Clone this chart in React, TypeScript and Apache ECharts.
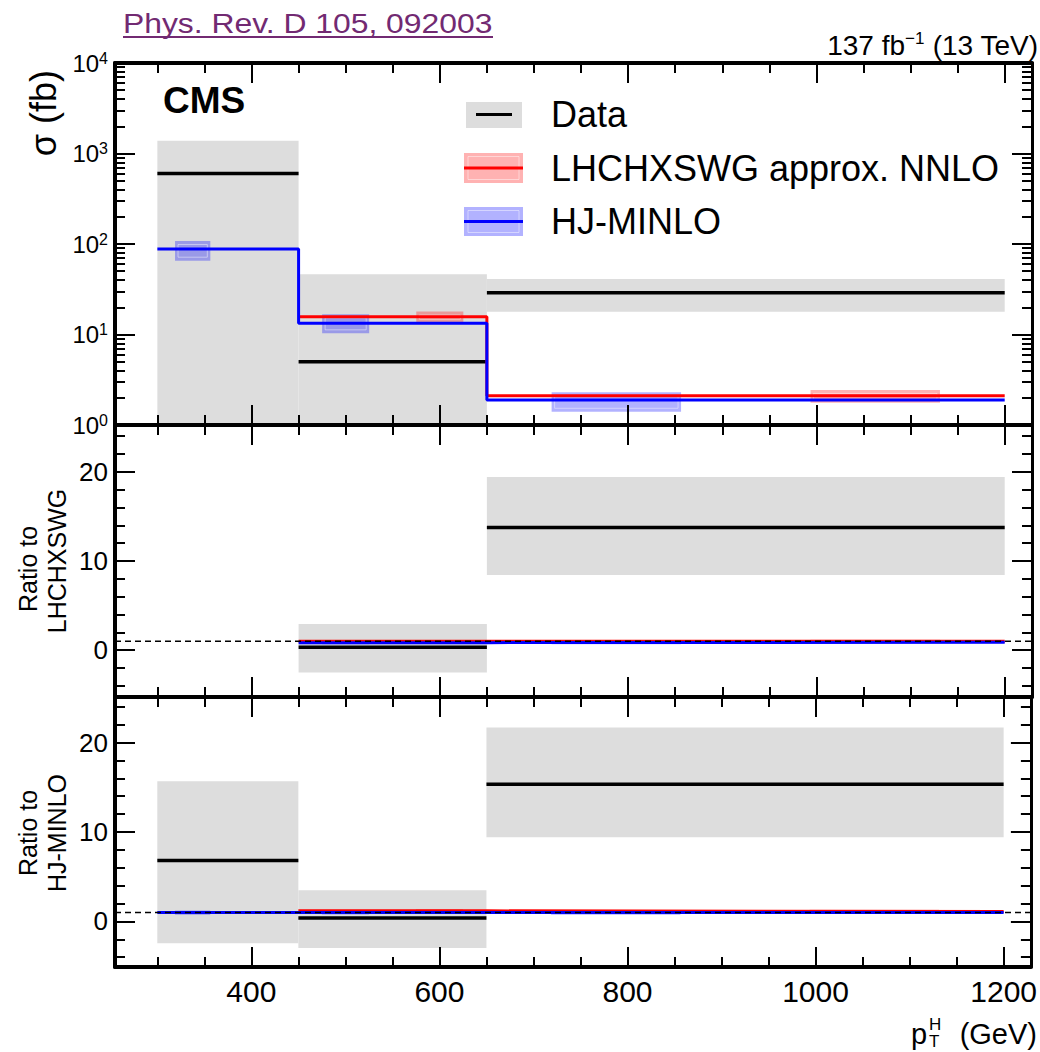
import React, { useEffect, useRef } from "react";
import * as echarts from "echarts";

// pT^H bin edges (GeV)
const BIN_EDGES = [300, 450, 650, 1200];

// Measured cross sections (fb) with the limits of the total uncertainty band
const DATA_XSEC = [600, 5, 29];
const DATA_HIGH = [1380, 46.3, 41];
const DATA_LOW = [-216, -39.5, 17.8];

// LHCHXSWG approx. NNLO prediction (none for the lowest bin)
const LHC_XSEC: (number | null)[] = [null, 15.7, 2.11];
const LHC_HIGH: (number | null)[] = [null, 17.9, 2.44];
const LHC_LOW: (number | null)[] = [null, 13.5, 1.76];

// HJ-MINLO prediction
const HJ_XSEC = [88, 13.3, 1.89];
const HJ_HIGH = [108, 16.7, 2.3];
const HJ_LOW = [65.4, 10.3, 1.4];

// Axis ranges and tick values
const X_RANGE = [255, 1229];
const X_MAJOR = [400, 600, 800, 1000, 1200];
const X_MINOR = [300, 350, 450, 500, 550, 650, 700, 750, 850, 900, 950, 1050, 1100, 1150];
const SIGMA_RANGE = [1, 10000];
const SIGMA_MAJOR = [1, 10, 100, 1000, 10000];
const SIGMA_MINOR = [
  2, 3, 4, 5, 6, 7, 8, 9, 20, 30, 40, 50, 60, 70, 80, 90, 200, 300, 400, 500, 600, 700, 800, 900,
  2000, 3000, 4000, 5000, 6000, 7000, 8000, 9000,
];
const RATIO_LHC_RANGE = [-5.25, 25.25];
const RATIO_HJ_RANGE = [-5.1, 25.1];
const RATIO_MAJOR = [0, 10, 20];
const RATIO_MINOR = [-4, -2, 2, 4, 6, 8, 12, 14, 16, 18, 22, 24];

const FONT = "Liberation Sans, Arial, Helvetica, sans-serif";
const BAND_GRAY = "#dddddd";
const RED = "#ff0000";
const BLUE = "#0000ff";
const RED_FILL = "rgba(255,0,0,0.3)";
const BLUE_FILL = "rgba(0,0,255,0.3)";
const LINK = "#722a72";

const GRID_LEFT = 115;
const GRID_WIDTH = 917;

type Panel = {
  top: number;
  height: number;
  ref: (number | null)[] | null;
  log: boolean;
  range: number[];
  xLabels: boolean;
};

const PANELS: Panel[] = [
  { top: 63, height: 362, ref: null, log: true, range: SIGMA_RANGE, xLabels: false },
  { top: 425, height: 272, ref: LHC_XSEC, log: false, range: RATIO_LHC_RANGE, xLabels: false },
  { top: 697, height: 270, ref: HJ_XSEC, log: false, range: RATIO_HJ_RANGE, xLabels: true },
];

const AXIS_LINE = { color: "#000", width: 4 };
const TICK_LINE = { color: "#000", width: 2 };

function xAxesFor(grid: number, showLabels: boolean) {
  const base = {
    type: "value",
    gridIndex: grid,
    min: X_RANGE[0],
    max: X_RANGE[1],
    splitLine: { show: false },
    z: 10,
  };
  const major = (position: string, labels: boolean) => ({
    ...base,
    position,
    axisLine: { show: true, onZero: false, lineStyle: AXIS_LINE },
    axisTick: { show: true, inside: true, length: 20, lineStyle: TICK_LINE, customValues: X_MAJOR },
    axisLabel: labels
      ? {
          show: true,
          customValues: X_MAJOR,
          margin: 9,
          fontSize: 30,
          fontFamily: FONT,
          color: "#000",
          formatter: (v: number) => String(v),
        }
      : { show: false },
  });
  const minor = (position: string) => ({
    ...base,
    position,
    axisLine: { show: false, onZero: false },
    axisTick: { show: true, inside: true, length: 10, lineStyle: TICK_LINE, customValues: X_MINOR },
    axisLabel: { show: false },
  });
  return [major("bottom", showLabels), minor("bottom"), major("top", false), minor("top")];
}

function yAxesFor(grid: number, p: Panel) {
  const majorVals = p.log ? SIGMA_MAJOR : RATIO_MAJOR;
  const minorVals = p.log ? SIGMA_MINOR : RATIO_MINOR;
  const base: any = {
    type: p.log ? "log" : "value",
    gridIndex: grid,
    min: p.range[0],
    max: p.range[1],
    splitLine: { show: false },
    z: 10,
  };
  if (p.log) base.logBase = 10;
  const label = p.log
    ? {
        show: true,
        customValues: majorVals,
        margin: 7,
        formatter: (v: number) => `{b|10}{s|${Math.round(Math.log10(v))}}`,
        rich: {
          b: { fontSize: 24, fontFamily: FONT, color: "#000", lineHeight: 26 },
          s: { fontSize: 16, fontFamily: FONT, color: "#000", lineHeight: 14, verticalAlign: "top" },
        },
      }
    : {
        show: true,
        customValues: majorVals,
        margin: 7,
        fontSize: 26,
        fontFamily: FONT,
        color: "#000",
        formatter: (v: number) => String(v),
      };
  const major = (position: string, labels: boolean) => ({
    ...base,
    position,
    axisLine: { show: true, onZero: false, lineStyle: position === "left" ? AXIS_LINE : { color: "#000", width: 3 } },
    axisTick: { show: true, inside: true, length: 20, lineStyle: TICK_LINE, customValues: majorVals },
    axisLabel: labels ? label : { show: false },
  });
  const minor = (position: string) => ({
    ...base,
    position,
    axisLine: { show: false, onZero: false },
    axisTick: { show: true, inside: true, length: 10, lineStyle: TICK_LINE, customValues: minorVals },
    axisLabel: { show: false },
  });
  return [major("left", true), minor("left"), major("right", false), minor("right")];
}

function rectItem(fill: string, inner: boolean) {
  return (_params: any, api: any) => {
    const a = api.coord([api.value(0), api.value(3)]);
    const b = api.coord([api.value(1), api.value(2)]);
    const w = b[0] - a[0];
    const h = b[1] - a[1];
    const children: any[] = [{ type: "rect", shape: { x: a[0], y: a[1], width: w, height: h }, style: { fill } }];
    if (inner && h > 10) {
      children.push({
        type: "rect",
        shape: { x: a[0] + 3, y: a[1] + 3.5, width: w - 6, height: h - 7 },
        style: { fill: "none", stroke: "rgba(255,255,255,0.45)", lineWidth: 1 },
      });
    }
    return { type: "group", children };
  };
}

function hLineItem(color: string) {
  return (_params: any, api: any) => {
    const a = api.coord([api.value(0), api.value(2)]);
    const b = api.coord([api.value(1), api.value(2)]);
    return {
      type: "line",
      shape: { x1: a[0], y1: a[1], x2: b[0], y2: b[1] },
      style: { stroke: color, lineWidth: 3.5 },
    };
  };
}

function panelSeries(p: Panel, idx: number) {
  const axes = { xAxisIndex: idx * 4, yAxisIndex: idx * 4 };
  const lo = p.range[0];
  const hi = p.range[1];
  const clamp = (v: number) => Math.min(hi, Math.max(lo, v));
  const norm = (arr: (number | null)[], i: number): number | null => {
    const v = arr[i];
    if (v == null) return null;
    if (!p.ref) return v;
    const r = p.ref[i];
    return r == null ? null : v / r;
  };
  const bins = BIN_EDGES.slice(0, -1)
    .map((x0, i) => ({ i, x0, x1: BIN_EDGES[i + 1] }))
    .filter((b) => !p.ref || p.ref[b.i] != null);

  const band = bins.map((b) => [b.x0, b.x1, clamp(norm(DATA_LOW, b.i) as number), clamp(norm(DATA_HIGH, b.i) as number)]);
  const dataLines = bins.map((b) => [b.x0, b.x1, norm(DATA_XSEC, b.i) as number]);

  const boxes = (xs: (number | null)[], low: (number | null)[], high: (number | null)[], from: number, to: number) =>
    bins
      .filter((b) => xs[b.i] != null)
      .map((b) => {
        const w = b.x1 - b.x0;
        return [b.x0 + w * from, b.x0 + w * to, clamp(norm(low, b.i) as number), clamp(norm(high, b.i) as number)];
      });

  const steps = (xs: (number | null)[]) => {
    const used = bins.filter((b) => xs[b.i] != null);
    const pts = used.map((b) => [b.x0, norm(xs, b.i) as number]);
    const last = used[used.length - 1];
    pts.push([last.x1, norm(xs, last.i) as number]);
    return pts;
  };

  const custom = (name: string, data: number[][], renderItem: any, dims: number) => ({
    type: "custom",
    name,
    ...axes,
    data,
    silent: true,
    dimensions: dims === 4 ? ["x0", "x1", "y0", "y1"] : ["x0", "x1", "y"],
    encode: dims === 4 ? { x: [0, 1], y: [2, 3] } : { x: [0, 1], y: [2] },
    renderItem,
  });

  const stepLine = (name: string, data: number[][], color: string) => ({
    type: "line",
    name,
    ...axes,
    data,
    step: "end",
    symbol: "none",
    silent: true,
    lineStyle: { color, width: 3 },
  });

  const series: any[] = [
    custom("Data uncertainty", band, rectItem(BAND_GRAY, false), 4),
    custom("HJ-MINLO uncertainty", boxes(HJ_XSEC, HJ_LOW, HJ_HIGH, 1 / 8, 3 / 8), rectItem(BLUE_FILL, true), 4),
    custom("LHCHXSWG uncertainty", boxes(LHC_XSEC, LHC_LOW, LHC_HIGH, 5 / 8, 7 / 8), rectItem(RED_FILL, true), 4),
    stepLine("LHCHXSWG approx. NNLO", steps(LHC_XSEC), RED),
    stepLine("HJ-MINLO", steps(HJ_XSEC), BLUE),
    custom("Data", dataLines, hLineItem("#000"), 3),
  ];
  if (p.ref) {
    series.push({
      type: "line",
      name: "unity",
      ...axes,
      data: [
        [X_RANGE[0], 1],
        [X_RANGE[1], 1],
      ],
      symbol: "none",
      silent: true,
      lineStyle: { color: "#000", width: 1.5, type: [6, 4] },
      z: 5,
    });
  }
  return series;
}

function text(x: number, y: number, str: string, style: any, extra: any = {}) {
  return {
    type: "text",
    x,
    y,
    silent: true,
    ...extra,
    style: { text: str, fontFamily: FONT, fill: "#000", align: "left", verticalAlign: "middle", ...style },
  };
}

function legendBox(y0: number, h: number, fill: string, lineColor: string) {
  return [
    { type: "rect", shape: { x: 464, y: y0, width: 59, height: h }, style: { fill }, silent: true },
    {
      type: "rect",
      shape: { x: 468, y: y0 + 3.5, width: 51, height: h - 7 },
      style: { fill: "none", stroke: "rgba(255,255,255,0.45)", lineWidth: 1 },
      silent: true,
    },
    {
      type: "line",
      shape: { x1: 464, y1: y0 + h / 2, x2: 523, y2: y0 + h / 2 },
      style: { stroke: lineColor, lineWidth: 3 },
      silent: true,
    },
  ];
}

function buildOption() {
  const grid = PANELS.map((p) => ({ left: GRID_LEFT, width: GRID_WIDTH, top: p.top, height: p.height }));
  const xAxis = PANELS.flatMap((p, i) => xAxesFor(i, p.xLabels));
  const yAxis = PANELS.flatMap((p, i) => yAxesFor(i, p));
  const series = PANELS.flatMap((p, i) => panelSeries(p, i));

  const graphic: any[] = [
    // journal reference link
    text(123, 23, "Phys. Rev. D 105, 092003", { fontSize: 27, fill: LINK }, { scaleX: 1.18 }),
    { type: "line", shape: { x1: 123, y1: 37, x2: 493, y2: 37 }, style: { stroke: LINK, lineWidth: 2 }, silent: true },
    // luminosity and energy
    text(1038, 45, "{a|137 fb}{s|\u22121}{a| (13 TeV)}", {
      align: "right",
      rich: {
        a: { fontSize: 28, fontFamily: FONT, fill: "#000", lineHeight: 30 },
        s: { fontSize: 17, fontFamily: FONT, fill: "#000", lineHeight: 16, verticalAlign: "top" },
      },
    }),
    text(163, 100.5, "CMS", { fontSize: 37, fontWeight: "bold" }),
    // legend
    { type: "rect", shape: { x: 466, y: 102, width: 56, height: 26 }, style: { fill: BAND_GRAY }, silent: true },
    { type: "line", shape: { x1: 476, y1: 114.5, x2: 512, y2: 114.5 }, style: { stroke: "#000", lineWidth: 3 }, silent: true },
    ...legendBox(153, 30, RED_FILL, RED),
    ...legendBox(207, 29, BLUE_FILL, BLUE),
    text(551, 114.5, "Data", { fontSize: 36 }),
    text(551, 168, "LHCHXSWG approx. NNLO", { fontSize: 36 }),
    text(551, 221.5, "HJ-MINLO", { fontSize: 36 }),
    // axis titles
    text(43, 70, "\u03c3 (fb)", { fontSize: 36, align: "right" }, { rotation: Math.PI / 2 }),
    text(28, 569, "Ratio to", { fontSize: 25, align: "center" }, { rotation: Math.PI / 2 }),
    text(57, 561, "LHCHXSWG", { fontSize: 25, align: "center" }, { rotation: Math.PI / 2 }),
    text(28, 833, "Ratio to", { fontSize: 25, align: "center" }, { rotation: Math.PI / 2 }),
    text(57, 833, "HJ-MINLO", { fontSize: 25, align: "center" }, { rotation: Math.PI / 2 }),
    text(911, 1034, "p", { fontSize: 29 }),
    text(929, 1024, "H", { fontSize: 17 }),
    text(929, 1041.5, "T", { fontSize: 17 }),
    text(1037, 1034, "(GeV)", { fontSize: 29, align: "right" }),
  ];

  return {
    animation: false,
    backgroundColor: "#ffffff",
    textStyle: { fontFamily: FONT },
    grid,
    xAxis,
    yAxis,
    series,
    graphic,
  };
}

export default function App() {
  const ref = useRef<HTMLDivElement | null>(null);
  useEffect(() => {
    if (!ref.current) return;
    const chart = echarts.init(ref.current, null, { renderer: "svg" });
    chart.setOption(buildOption() as any);
    return () => chart.dispose();
  }, []);
  return (
    <div
      ref={ref}
      style={{ position: "fixed", left: 0, top: 0, width: 1040, height: 1052, background: "#fff" }}
    />
  );
}
